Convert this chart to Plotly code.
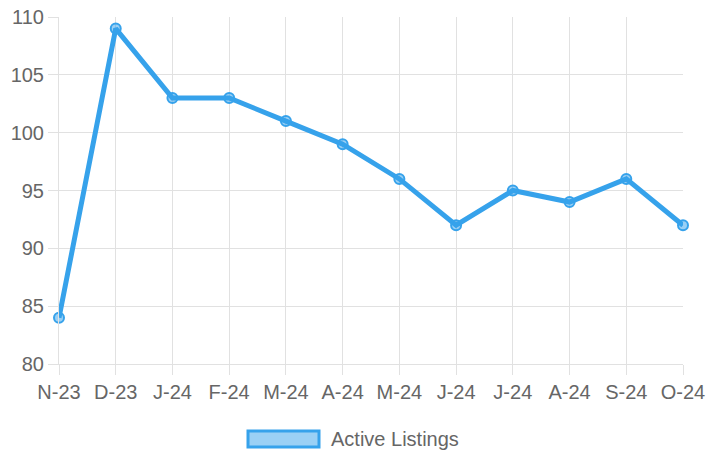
import plotly.graph_objects as go

labels = ["N-23", "D-23", "J-24", "F-24", "M-24", "A-24", "M-24", "J-24", "J-24", "A-24", "S-24", "O-24"]
values = [84, 109, 103, 103, 101, 99, 96, 92, 95, 94, 96, 92]
series_name = "Active Listings"

x = list(range(len(labels)))
blue = "#36A2EB"
grid = "#e1e1e1"

fig = go.Figure()
fig.add_trace(go.Scatter(
    x=x, y=values, mode="lines+markers", name=series_name,
    line=dict(color=blue, width=5),
    marker=dict(size=10, color="rgba(54,162,235,0.5)", line=dict(color=blue, width=2)),
    showlegend=False, cliponaxis=False,
))

fig.update_layout(
    width=707, height=455,
    margin=dict(l=59, r=24, t=17, b=91),
    paper_bgcolor="white", plot_bgcolor="white",
    font=dict(family="Liberation Sans, Arial", size=20, color="#666666"),
    xaxis=dict(
        range=[0, len(labels) - 1], tickmode="array", tickvals=x, ticktext=labels,
        showgrid=True, gridcolor=grid, gridwidth=1, zeroline=False, automargin=False,
        ticks="outside", ticklen=10, tickcolor=grid, showline=True, linecolor=grid,
    ),
    yaxis=dict(
        range=[80, 110], dtick=5, tick0=80, automargin=False,
        showgrid=True, gridcolor=grid, gridwidth=1, zeroline=False,
        ticks="outside", ticklen=10, tickcolor=grid, showline=True, linecolor=grid,
    ),
)

# legend drawn manually (Chart.js style)
fig.add_shape(type="rect", xref="paper", yref="paper",
              x0=(248 - 59) / 624, x1=(319 - 59) / 624,
              y0=(364 - 447) / 347, y1=(364 - 431) / 347,
              fillcolor="rgba(54,162,235,0.5)", line=dict(color=blue, width=3))
fig.add_annotation(xref="paper", yref="paper", x=(329 - 59) / 624, y=(364 - 439) / 347,
                   text=series_name, showarrow=False, xanchor="left", yanchor="middle",
                   font=dict(size=20, color="#666666"))

fig.write_html("out.html", config={"displayModeBar": False},
               post_script="document.body.style.margin='0';")
